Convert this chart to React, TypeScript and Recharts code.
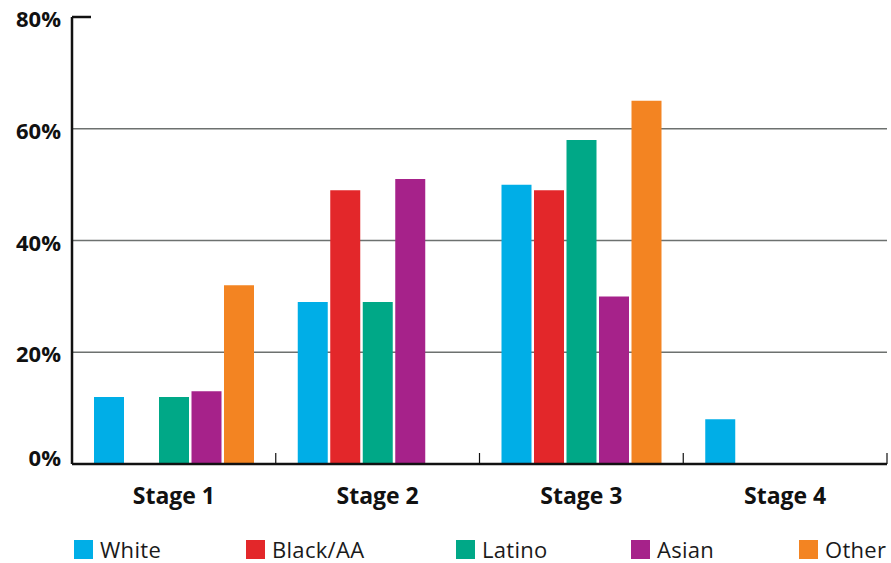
import React from "react";
import { Bar, BarChart, CartesianGrid, Legend, XAxis, YAxis } from "recharts";

const stages = ["Stage 1", "Stage 2", "Stage 3", "Stage 4"];
const white = [12, 29, 50, 8];
const blackAA = [0, 49, 49, 0];
const latino = [12, 29, 58, 0];
const asian = [13, 51, 30, 0];
const other = [32, 0, 65, 0];
const yTicks = [0, 20, 40, 60, 80];

const SERIES = [
    { key: "white", name: "White", color: "#00aee7" },
    { key: "blackAA", name: "Black/AA", color: "#e3272a" },
    { key: "latino", name: "Latino", color: "#00a887" },
    { key: "asian", name: "Asian", color: "#a6228a" },
    { key: "other", name: "Other", color: "#f38422" },
];

const data = stages.map(( stage, i ) => ({
    stage,
    white: white[i],
    blackAA: blackAA[i],
    latino: latino[i],
    asian: asian[i],
    other: other[i],
}));

const WIDTH = 891;
const HEIGHT = 563;
const MARGIN = { top: 17, right: 4, left: 0, bottom: 0 };
const Y_AXIS_W = 72;
const BAND = (WIDTH - MARGIN.left - MARGIN.right - Y_AXIS_W) / stages.length;
const FONT = "'Open Sans', 'DejaVu Sans', sans-serif";
// legend slot widths, so each swatch lines up under its spot
const LEGEND_SLOTS = [172, 210, 175, 168, 90];

const StageTick = ( { x, y, payload } ) => (
  <g>
      <line x1={x + BAND / 2} x2={x + BAND / 2} y1={y - 11} y2={y} stroke="#111" strokeWidth={1.2}/>
      <text x={x} y={y} dy={40} textAnchor="middle" fontFamily={FONT} fontWeight={700} fontSize={23} fill="#111">
          {payload.value}
      </text>
  </g>
);

const PercentTick = ( { x, y, payload } ) => (
  <g>
      {payload.value === 80 && (
        <line x1={x + 11} x2={x + 30} y1={y} y2={y} stroke="#111" strokeWidth={2.5}/>
      )}
      <text x={x} y={y} dy={payload.value === 0 ? 2 : 10} textAnchor="end" fontFamily={FONT} fontWeight={700}
            fontSize={22} fill="#111">
          {payload.value}%
      </text>
  </g>
);

const LegendContent = () => (
  <div style={{ display: "flex", paddingLeft: 74, paddingTop: 16, fontFamily: FONT, whiteSpace: "nowrap" }}>
      {SERIES.map(( s, i ) => (
        <div key={s.key} style={{ display: "flex", alignItems: "center", width: LEGEND_SLOTS[i], lineHeight: "28px" }}>
            <span style={{ width: 19, height: 19, background: s.color, marginRight: 7, flexShrink: 0 }}/>
            <span style={{ fontSize: 22, fontWeight: 400, letterSpacing: 0.3, color: "#1a1a1a" }}>{s.name}</span>
        </div>
      ))}
  </div>
);

export default function App() {
    return (
      <div style={{ position: "absolute", left: 0, top: 0, width: WIDTH, height: HEIGHT, background: "#fff" }}>
          <BarChart width={WIDTH} height={HEIGHT} data={data} margin={MARGIN} barCategoryGap={22} barGap={2.5}>
              <CartesianGrid vertical={false} horizontalValues={[20, 40, 60]} stroke="#6d716f" strokeWidth={1.5}/>
              <XAxis dataKey="stage" height={55} axisLine={{ stroke: "#111", strokeWidth: 2.5 }} tickLine={false}
                     tickSize={0} tickMargin={0} tick={<StageTick/>} interval={0}/>
              <YAxis width={Y_AXIS_W} domain={[0, 80]} ticks={yTicks} axisLine={{ stroke: "#111", strokeWidth: 2.5 }}
                     tickLine={false} tickSize={0} tickMargin={11} tick={<PercentTick/>}/>
              <Legend verticalAlign="bottom" align="left" height={44} content={<LegendContent/>}
                      wrapperStyle={{ left: 0, bottom: 0, width: WIDTH }}/>
              {SERIES.map(s => (
                <Bar key={s.key} dataKey={s.key} name={s.name} fill={s.color} isAnimationActive={false}/>
              ))}
          </BarChart>
      </div>
    );
}
